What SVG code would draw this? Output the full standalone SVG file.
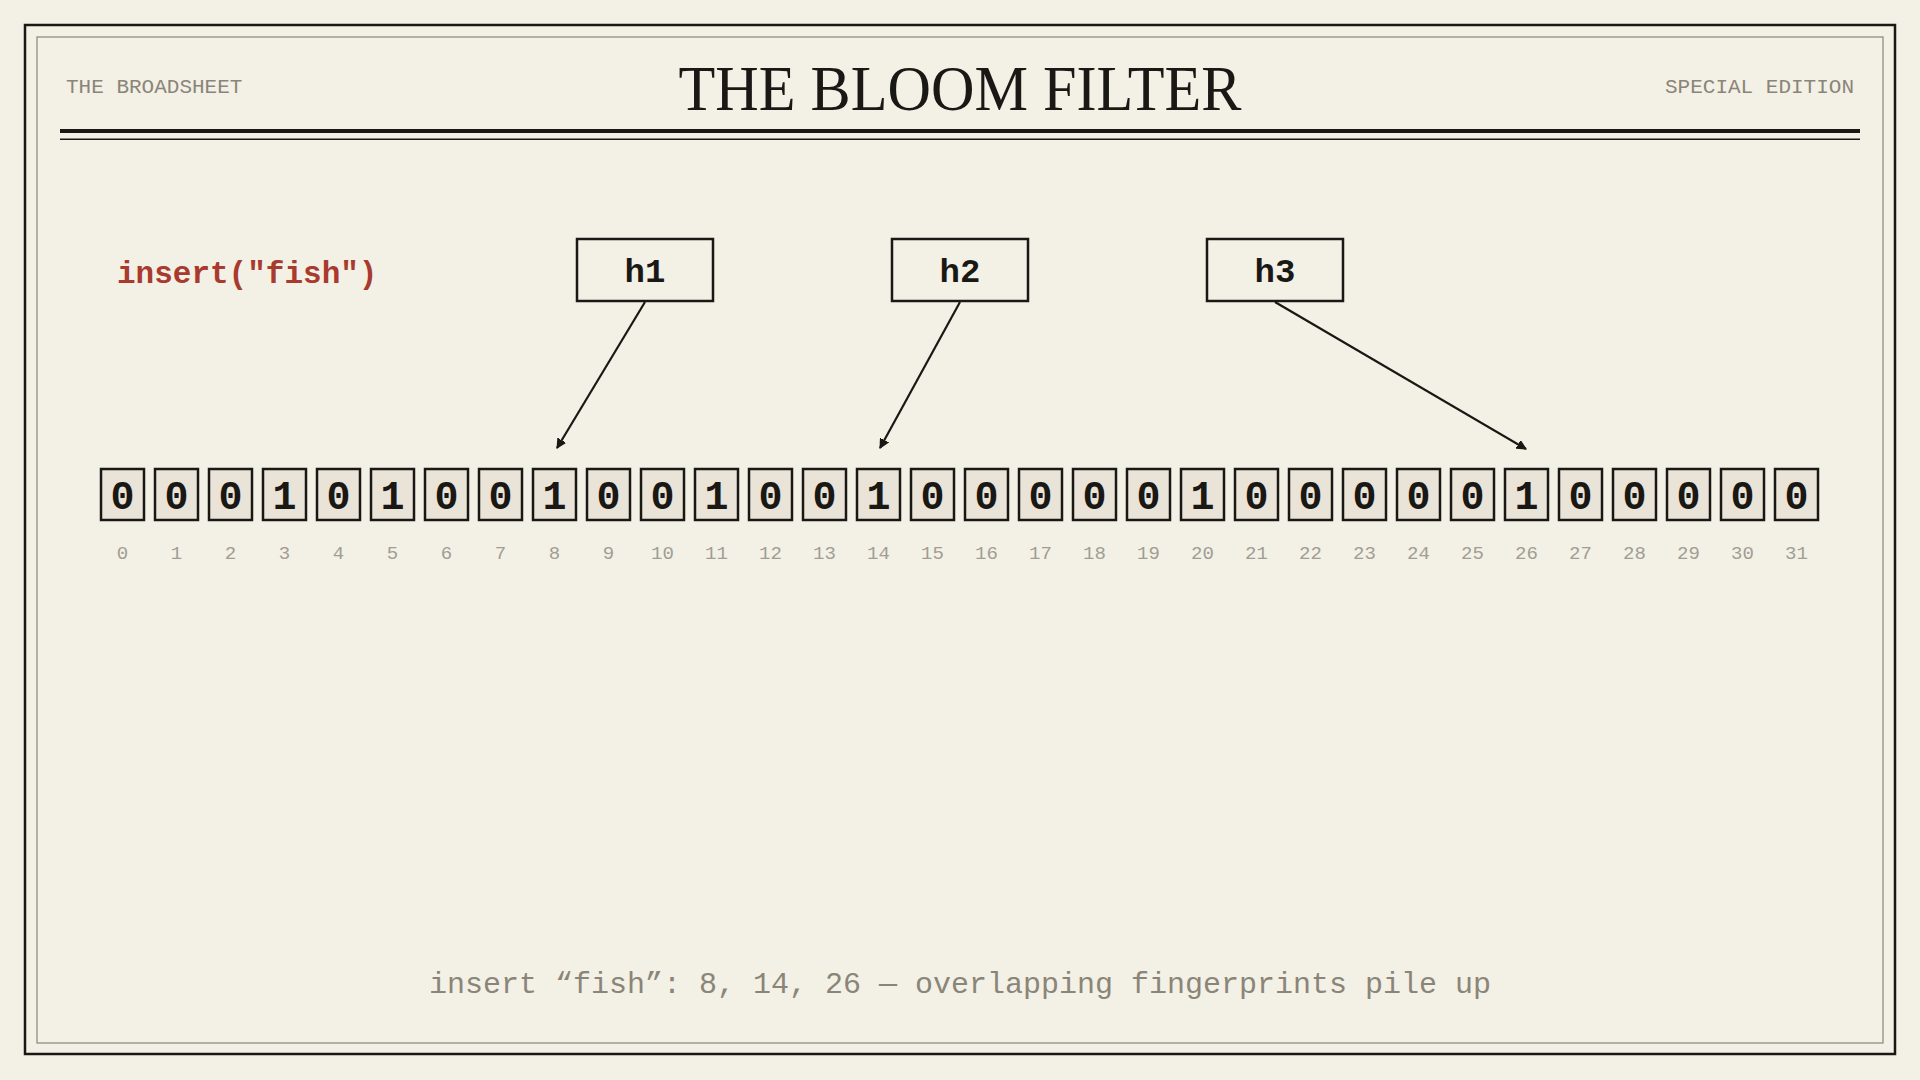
<svg xmlns="http://www.w3.org/2000/svg" width="1920" height="1080" viewBox="0 0 1920 1080">
<defs>
<style>
.mono{font-family:"Liberation Mono","DejaVu Sans Mono",monospace}
.hdr{font-size:21px;fill:#8a8578}
.cell{fill:#e9e3d8;stroke:#1a1814;stroke-width:2.5}
.bit{font-size:40px;font-weight:bold;fill:#1a1814;text-anchor:middle}
.idx{font-size:19px;fill:#a19d93;text-anchor:middle}
.hbox{fill:#f3f0e6;stroke:#1a1814;stroke-width:2.5}
.hlab{font-size:34px;font-weight:bold;fill:#1a1814;text-anchor:middle}
.conn{stroke:#1a1814;stroke-width:2.2;fill:none;marker-end:url(#ah)}
</style>
<marker id="ah" markerWidth="10" markerHeight="10" refX="9" refY="5" orient="auto" markerUnits="userSpaceOnUse" viewBox="0 0 10 10"><path d="M0,0 L10,5 L0,10 z" fill="#1a1814" transform="scale(1.6) translate(-3.7,-1.9)"/></marker>
</defs>
<rect width="1920" height="1080" fill="#f3f0e6"/>
<rect x="25" y="25" width="1870" height="1029" fill="none" stroke="#1a1814" stroke-width="2.5"/>
<rect x="37" y="37" width="1846" height="1006" fill="none" stroke="#8a8578" stroke-width="1.2"/>
<text class="mono hdr" x="66" y="93">THE BROADSHEET</text>
<text class="mono hdr" x="1854" y="93" text-anchor="end">SPECIAL EDITION</text>
<text x="960" y="110" text-anchor="middle" font-family="Liberation Serif,serif" font-size="64" fill="#1a1814" textLength="563" lengthAdjust="spacingAndGlyphs">THE BLOOM FILTER</text>
<rect x="60" y="129" width="1800" height="4" fill="#1a1814"/>
<rect x="60" y="138.5" width="1800" height="1.5" fill="#1a1814"/>
<text class="mono" x="117" y="283" font-size="31" font-weight="bold" fill="#a83a2e">insert("fish")</text>
<g id="h1"><rect class="hbox" x="577" y="239" width="136" height="62"/><text class="mono hlab" x="645" y="282">h1</text></g>
<g id="h2"><rect class="hbox" x="892" y="239" width="136" height="62"/><text class="mono hlab" x="960" y="282">h2</text></g>
<g id="h3"><rect class="hbox" x="1207" y="239" width="136" height="62"/><text class="mono hlab" x="1275" y="282">h3</text></g>
<g id="connectors">
<line class="conn" x1="645" y1="302" x2="557" y2="448"/>
<line class="conn" x1="960" y1="302" x2="880" y2="448"/>
<line class="conn" x1="1275" y1="302" x2="1526" y2="449"/>
</g>
<g id="bits" class="mono">
<g id="b0"><rect class="cell" x="101" y="469" width="43" height="51"/><text class="bit" x="122.5" y="509">0</text><text class="idx" x="122.5" y="559">0</text></g>
<g id="b1"><rect class="cell" x="155" y="469" width="43" height="51"/><text class="bit" x="176.5" y="509">0</text><text class="idx" x="176.5" y="559">1</text></g>
<g id="b2"><rect class="cell" x="209" y="469" width="43" height="51"/><text class="bit" x="230.5" y="509">0</text><text class="idx" x="230.5" y="559">2</text></g>
<g id="b3"><rect class="cell" x="263" y="469" width="43" height="51"/><text class="bit" x="284.5" y="509">1</text><text class="idx" x="284.5" y="559">3</text></g>
<g id="b4"><rect class="cell" x="317" y="469" width="43" height="51"/><text class="bit" x="338.5" y="509">0</text><text class="idx" x="338.5" y="559">4</text></g>
<g id="b5"><rect class="cell" x="371" y="469" width="43" height="51"/><text class="bit" x="392.5" y="509">1</text><text class="idx" x="392.5" y="559">5</text></g>
<g id="b6"><rect class="cell" x="425" y="469" width="43" height="51"/><text class="bit" x="446.5" y="509">0</text><text class="idx" x="446.5" y="559">6</text></g>
<g id="b7"><rect class="cell" x="479" y="469" width="43" height="51"/><text class="bit" x="500.5" y="509">0</text><text class="idx" x="500.5" y="559">7</text></g>
<g id="b8"><rect class="cell" x="533" y="469" width="43" height="51"/><text class="bit" x="554.5" y="509">1</text><text class="idx" x="554.5" y="559">8</text></g>
<g id="b9"><rect class="cell" x="587" y="469" width="43" height="51"/><text class="bit" x="608.5" y="509">0</text><text class="idx" x="608.5" y="559">9</text></g>
<g id="b10"><rect class="cell" x="641" y="469" width="43" height="51"/><text class="bit" x="662.5" y="509">0</text><text class="idx" x="662.5" y="559">10</text></g>
<g id="b11"><rect class="cell" x="695" y="469" width="43" height="51"/><text class="bit" x="716.5" y="509">1</text><text class="idx" x="716.5" y="559">11</text></g>
<g id="b12"><rect class="cell" x="749" y="469" width="43" height="51"/><text class="bit" x="770.5" y="509">0</text><text class="idx" x="770.5" y="559">12</text></g>
<g id="b13"><rect class="cell" x="803" y="469" width="43" height="51"/><text class="bit" x="824.5" y="509">0</text><text class="idx" x="824.5" y="559">13</text></g>
<g id="b14"><rect class="cell" x="857" y="469" width="43" height="51"/><text class="bit" x="878.5" y="509">1</text><text class="idx" x="878.5" y="559">14</text></g>
<g id="b15"><rect class="cell" x="911" y="469" width="43" height="51"/><text class="bit" x="932.5" y="509">0</text><text class="idx" x="932.5" y="559">15</text></g>
<g id="b16"><rect class="cell" x="965" y="469" width="43" height="51"/><text class="bit" x="986.5" y="509">0</text><text class="idx" x="986.5" y="559">16</text></g>
<g id="b17"><rect class="cell" x="1019" y="469" width="43" height="51"/><text class="bit" x="1040.5" y="509">0</text><text class="idx" x="1040.5" y="559">17</text></g>
<g id="b18"><rect class="cell" x="1073" y="469" width="43" height="51"/><text class="bit" x="1094.5" y="509">0</text><text class="idx" x="1094.5" y="559">18</text></g>
<g id="b19"><rect class="cell" x="1127" y="469" width="43" height="51"/><text class="bit" x="1148.5" y="509">0</text><text class="idx" x="1148.5" y="559">19</text></g>
<g id="b20"><rect class="cell" x="1181" y="469" width="43" height="51"/><text class="bit" x="1202.5" y="509">1</text><text class="idx" x="1202.5" y="559">20</text></g>
<g id="b21"><rect class="cell" x="1235" y="469" width="43" height="51"/><text class="bit" x="1256.5" y="509">0</text><text class="idx" x="1256.5" y="559">21</text></g>
<g id="b22"><rect class="cell" x="1289" y="469" width="43" height="51"/><text class="bit" x="1310.5" y="509">0</text><text class="idx" x="1310.5" y="559">22</text></g>
<g id="b23"><rect class="cell" x="1343" y="469" width="43" height="51"/><text class="bit" x="1364.5" y="509">0</text><text class="idx" x="1364.5" y="559">23</text></g>
<g id="b24"><rect class="cell" x="1397" y="469" width="43" height="51"/><text class="bit" x="1418.5" y="509">0</text><text class="idx" x="1418.5" y="559">24</text></g>
<g id="b25"><rect class="cell" x="1451" y="469" width="43" height="51"/><text class="bit" x="1472.5" y="509">0</text><text class="idx" x="1472.5" y="559">25</text></g>
<g id="b26"><rect class="cell" x="1505" y="469" width="43" height="51"/><text class="bit" x="1526.5" y="509">1</text><text class="idx" x="1526.5" y="559">26</text></g>
<g id="b27"><rect class="cell" x="1559" y="469" width="43" height="51"/><text class="bit" x="1580.5" y="509">0</text><text class="idx" x="1580.5" y="559">27</text></g>
<g id="b28"><rect class="cell" x="1613" y="469" width="43" height="51"/><text class="bit" x="1634.5" y="509">0</text><text class="idx" x="1634.5" y="559">28</text></g>
<g id="b29"><rect class="cell" x="1667" y="469" width="43" height="51"/><text class="bit" x="1688.5" y="509">0</text><text class="idx" x="1688.5" y="559">29</text></g>
<g id="b30"><rect class="cell" x="1721" y="469" width="43" height="51"/><text class="bit" x="1742.5" y="509">0</text><text class="idx" x="1742.5" y="559">30</text></g>
<g id="b31"><rect class="cell" x="1775" y="469" width="43" height="51"/><text class="bit" x="1796.5" y="509">0</text><text class="idx" x="1796.5" y="559">31</text></g>
</g>
<text class="mono" x="960" y="993" text-anchor="middle" font-size="30" fill="#8a8578">insert “fish”: 8, 14, 26 — overlapping fingerprints pile up</text>
</svg>
